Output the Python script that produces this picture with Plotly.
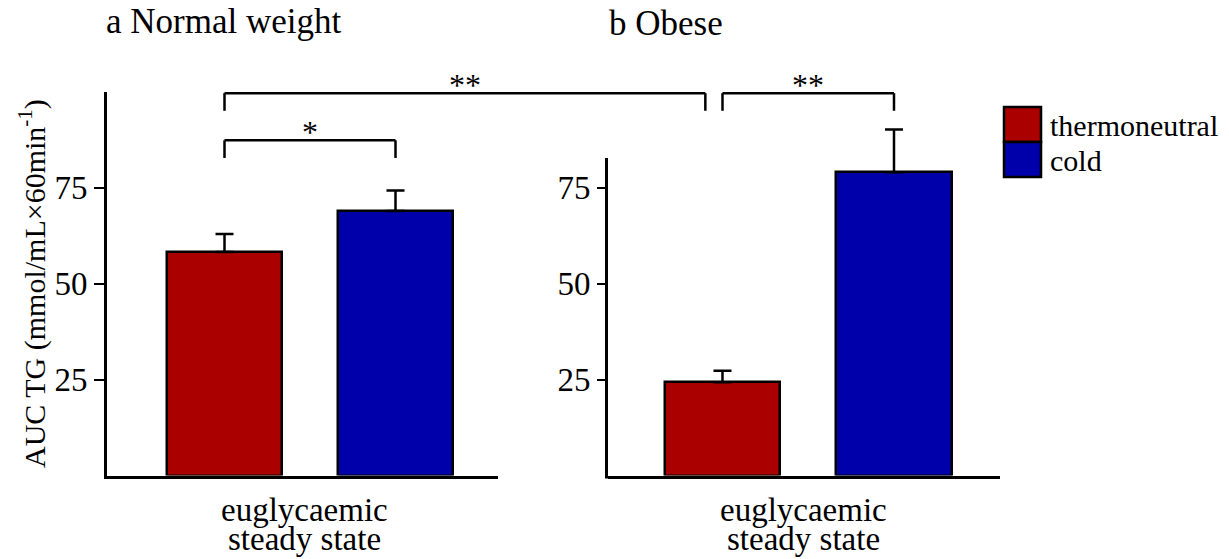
import plotly.graph_objects as go

# ---------------- data ----------------
conditions = ["thermoneutral", "cold"]
normal_mean = [58.3, 69.0]
normal_sem = [4.7, 5.3]
obese_mean = [24.3, 79.1]
obese_sem = [3.0, 11.1]
panel_titles = ["a Normal weight", "b Obese"]
group_label = ["euglycaemic", "steady state"]
y_ticks = [25, 50, 75]
# significance: (axis of start, position, axis of end, position, level, label)
sig_marks = [
    ("x", 0, "x", 1, 87.4, "*"),
    ("x", 0, "x2", -0.1, 99.7, "**"),
    ("x2", 0, "x2", 1, 99.7, "**"),
]

# ---------------- styling / layout ----------------
W, H = 1229, 559
colors = ["#AA0000", "#0000AA"]
FONT = "Liberation Serif, Times New Roman, serif"
xdom = {"x": [107 / W, 498 / W], "x2": [608 / W, 1000 / W]}
xrng = {"x": [-0.6871, 1.5994], "x2": [-0.6676, 1.6181]}
ybot = 1 - 475.5 / H
ytop = 1 - 92 / H
yrng = [0, 100]
right_axis_top = 82.8  # visible top of the right y-axis line
bar_w = 0.6725
xpos = [0, 1]


def xp(ax, v):
    d, r = xdom[ax], xrng[ax]
    return d[0] + (v - r[0]) / (r[1] - r[0]) * (d[1] - d[0])


def yp(v):
    return ybot + (v - yrng[0]) / (yrng[1] - yrng[0]) * (ytop - ybot)


fig = go.Figure()
for ax, ay, means, sems in [("x", "y", normal_mean, normal_sem), ("x2", "y2", obese_mean, obese_sem)]:
    for i, cond in enumerate(conditions):
        fig.add_trace(go.Bar(
            x=[xpos[i]], y=[means[i]], width=bar_w, name=cond,
            marker=dict(color=colors[i], line=dict(color="black", width=2.5)),
            error_y=dict(type="data", symmetric=False, array=[sems[i]], arrayminus=[0],
                         color="black", thickness=2.5, width=9),
            xaxis=ax, yaxis=ay, showlegend=False,
        ))

axis_common = dict(linecolor="black", linewidth=3, showgrid=False,
                   zeroline=False, fixedrange=True)
for ax in ["x", "x2"]:
    key = "xaxis" if ax == "x" else "xaxis2"
    fig.layout[key] = dict(domain=xdom[ax], range=xrng[ax], showticklabels=False, showline=True,
                           ticks="", anchor="y" if ax == "x" else "y2", **axis_common)
for ay in ["y", "y2"]:
    key = "yaxis" if ay == "y" else "yaxis2"
    fig.layout[key] = dict(domain=[ybot, ytop], range=yrng, tickvals=y_ticks,
                           showline=(ay == "y"),
                           ticks="outside", ticklen=10, tickwidth=2, tickcolor="black",
                           tickfont=dict(family=FONT, size=33, color="black"),
                           anchor="x" if ay == "y" else "x2", **axis_common)

shapes = []
annotations = []

# shortened right y-axis line
ax_x = xdom["x2"][0] - 1.5 / W
shapes.append(dict(type="line", xref="paper", yref="paper", x0=ax_x, x1=ax_x,
                   y0=ybot - 3 / H, y1=yp(right_axis_top), line=dict(color="black", width=3)))

drop = 4.6
for a0, i0, a1, i1, level, lab in sig_marks:
    x0, x1 = xp(a0, i0), xp(a1, i1)
    y0, y1 = yp(level), yp(level - drop)
    ln = dict(color="black", width=2.5)
    shapes.append(dict(type="line", xref="paper", yref="paper", x0=x0, x1=x1, y0=y0, y1=y0, line=ln))
    shapes.append(dict(type="line", xref="paper", yref="paper", x0=x0, x1=x0, y0=y0, y1=y1, line=ln))
    shapes.append(dict(type="line", xref="paper", yref="paper", x0=x1, x1=x1, y0=y0, y1=y1, line=ln))
    annotations.append(dict(text=lab, x=(x0 + x1) / 2, y=y0, xref="paper", yref="paper",
                            xanchor="center", yanchor="bottom", yshift=-12, showarrow=False,
                            font=dict(family=FONT, size=32, color="black")))

# panel titles
for t, x, ypx in zip(panel_titles, [104 / W, 607 / W], [21, 23]):
    annotations.append(dict(text=t, x=x, y=1 - ypx / H, xref="paper", yref="paper",
                            xanchor="left", yanchor="middle", showarrow=False,
                            font=dict(family=FONT, size=35, color="black")))

# group labels under each panel
for ax in ["x", "x2"]:
    for k, line in enumerate(group_label):
        annotations.append(dict(text=line, x=0.47, y=1 - (510 + 29 * k) / H, xref=ax, yref="paper",
                                xanchor="center", yanchor="middle", showarrow=False,
                                font=dict(family=FONT, size=33, color="black")))

# y-axis title
annotations.append(dict(text="AUC TG (mmol/mL×60min<sup>-1</sup>)", x=32 / W, y=1 - 284 / H,
                        xref="paper", yref="paper", textangle=-90, xanchor="center",
                        yanchor="middle", showarrow=False,
                        font=dict(family=FONT, size=30, color="black")))

# legend (drawn)
sq_x0, sq_x1 = 1004 / W, 1041 / W
sq_top = 107
sq_h = 35
for i, (cond, col) in enumerate(zip(conditions, colors)):
    t = sq_top + i * sq_h
    shapes.append(dict(type="rect", xref="paper", yref="paper", x0=sq_x0, x1=sq_x1,
                       y0=1 - (t + sq_h) / H, y1=1 - t / H, fillcolor=col,
                       line=dict(color="black", width=2.5)))
    annotations.append(dict(text=cond, x=1048 / W, y=1 - (t + sq_h / 2 + 1) / H, xref="paper",
                            yref="paper", xanchor="left", yanchor="middle", showarrow=False,
                            font=dict(family=FONT, size=30, color="black")))

fig.update_layout(
    width=W, height=H, margin=dict(l=0, r=0, t=0, b=0),
    paper_bgcolor="white", plot_bgcolor="white",
    shapes=shapes, annotations=annotations, bargap=0, showlegend=False,
)

fig.write_html("out.html", config={"displayModeBar": False},
               post_script="document.body.style.margin='0px';document.body.style.padding='0px';")
